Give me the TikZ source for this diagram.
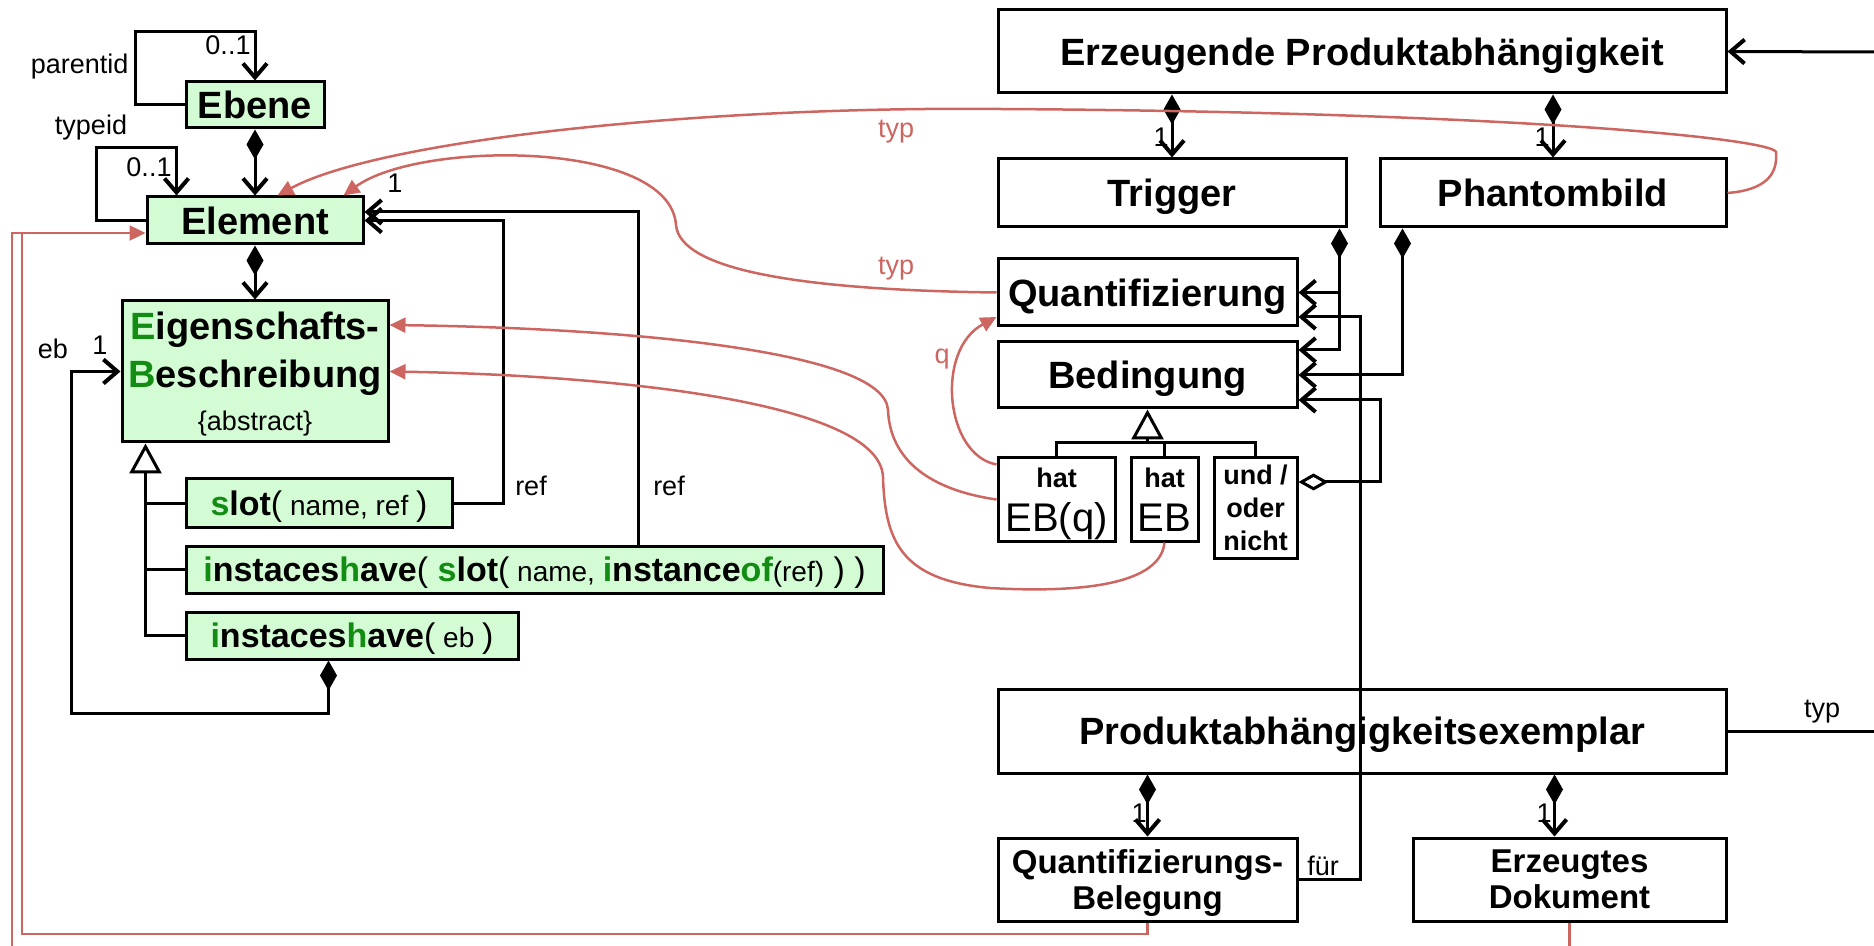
\documentclass[tikz,border=0pt]{standalone}
\usepackage{fontspec}
\setmainfont{Liberation Sans}
\usetikzlibrary{arrows.meta,calc}

\definecolor{clsfill}{RGB}{212,252,212}
\definecolor{kwgreen}{RGB}{18,140,18}
\definecolor{typred}{RGB}{205,102,96}

\newcommand{\kw}[1]{\textcolor{kwgreen}{#1}}
\newcommand{\argtxt}[1]{{\mdseries\fontsize{14}{16}\selectfont #1}}
\newcommand{\rpar}[1]{{\mdseries #1}}

\tikzset{every picture/.style={line width=1.5pt}}
\tikzset{
  cls/.style={draw, inner sep=0pt, align=center, text depth=0pt, font=\fontsize{19}{24}\selectfont\bfseries},
  green cls/.style={cls, fill=clsfill},
  sub cls/.style={green cls, font=\fontsize{17}{20}\selectfont\bfseries},
  small cls/.style={cls, font=\fontsize{16.5}{18}\selectfont\bfseries},
  hat cls/.style={cls, font=\fontsize{20}{22}\selectfont},
  op cls/.style={cls, font=\fontsize{13.5}{16.5}\selectfont\bfseries},
  lbl/.style={inner sep=0pt, font=\fontsize{13.5}{16}\selectfont},
  red lbl/.style={lbl, text=typred},
  assoc/.style={-{Straight Barb[length=7pt,width=12pt,line width=2pt]}},
  comp/.style={{Diamond[length=15pt,width=8.5pt]}-{Straight Barb[length=7pt,width=12pt,line width=2pt]}},
  aggr/.style={{Diamond[open,fill=white,length=15pt,width=8.5pt]}-{Straight Barb[length=7pt,width=12pt,line width=2pt]}},
  gen/.style={-{Triangle[open,fill=white,length=15pt,width=16pt]}},
  typ/.style={typred, line width=1.25pt},
  typ arrow/.style={typ, -{Triangle[length=8pt,width=7.5pt]}},
}

\begin{document}
\begin{tikzpicture}[x=0.5pt,y=0.5pt,yscale=-1]
  \useasboundingbox (0,0) rectangle (1874,946);

  %Shape: Rectangle (meta model, left)
  \node[green cls, minimum width=69pt, minimum height=23pt] (ebene) at (255,105) {Ebene};
  \node[green cls, minimum width=108pt, minimum height=23.5pt] (element) at (255,220.5) {Element};
  \node[green cls, minimum width=133pt, minimum height=70.5pt] (eb) at (255,371.5)
    {\kw{E}igenschafts-\\\kw{B}eschreibung\\[-2.5pt]{\mdseries\fontsize{13.5}{16}\selectfont\{abstract\}}};
  \node[sub cls, minimum width=133pt, minimum height=24pt] (slot) at (319,503)
    {\kw{s}lot\rpar{(}\argtxt{ name, ref }\rpar{)}};
  \node[sub cls, minimum width=348.5pt, minimum height=23.5pt] (ihslot) at (534.5,569.5)
    {\kw{i}nstaces\kw{h}ave\rpar{(} \kw{s}lot\rpar{(}\argtxt{ name, }\kw{i}nstance\kw{of}\argtxt{(ref)}\rpar{ ) )}};
  \node[sub cls, minimum width=166pt, minimum height=23.5pt] (iheb) at (352,635.5)
    {\kw{i}nstaces\kw{h}ave\rpar{(}\argtxt{ eb }\rpar{)}};

  %Shape: Rectangle (product dependencies, right)
  \node[cls, minimum width=364pt, minimum height=41.5pt] (epa) at (1362,51.5) {Erzeugende Produktabhängigkeit};
  \node[cls, minimum width=174pt, minimum height=34pt] (trigger) at (1172,193) {Trigger};
  \node[cls, minimum width=173pt, minimum height=34pt] (phantom) at (1553,193) {Phantombild};
  \node[cls, minimum width=149.5pt, minimum height=33.5pt] (quant) at (1147.5,292.5) {Quantifizierung};
  \node[cls, minimum width=149.5pt, minimum height=33pt] (bed) at (1147.5,375) {Bedingung};
  \node[hat cls, minimum width=58.5pt, minimum height=41.5pt] (hateq) at (1056.5,499.5)
    {{\bfseries\fontsize{13.5}{16}\selectfont hat}\\EB(q)};
  \node[hat cls, minimum width=33.5pt, minimum height=41.5pt] (hateb) at (1164.5,499.5)
    {{\bfseries\fontsize{13.5}{16}\selectfont hat}\\EB};
  \node[op cls, minimum width=41.5pt, minimum height=50pt] (undoder) at (1255.5,508) {und /\\oder\\nicht};
  \node[cls, minimum width=364pt, minimum height=42pt] (pae) at (1362,731) {Produktabhängigkeitsexemplar};
  \node[small cls, minimum width=149.5pt, minimum height=41.5pt] (qb) at (1147.5,879.5) {Quantifizierungs-\\Belegung};
  \node[small cls, minimum width=156.5pt, minimum height=41.5pt] (ed) at (1569.5,879.5) {Erzeugtes\\Dokument};

  %Straight Lines (self associations)
  \draw[assoc] (ebene.west) -- ++(-49,0) -- ++(0,-73) -| (ebene.north);
  \draw[assoc] (element.west) -- ++(-49,0) -- ++(0,-73) -| ($(element.north west)+(31,0)$);

  %Straight Lines (compositions, left)
  \draw[comp] (ebene.south) -- (element.north);
  \draw[comp] (element.south) -- (eb.north);
  \coordinate (ebdia) at ($(iheb.south west)+(144,0)$);
  \draw[comp] (ebdia) -- ++(0,53) -| ($(eb.west)+(-49,0)$) -- (eb.west);

  %Straight Lines (generalisation)
  \coordinate (ebgen) at ($(eb.south west)+(25,0)$);
  \draw[gen] (iheb.west) -| (ebgen);
  \draw (slot.west) -- (slot.west -| ebgen);
  \draw (ihslot.west) -- (ihslot.west -| ebgen);

  %Straight Lines (ref)
  \draw[assoc] (slot.east) -- ++(50,0) |- (element.east);
  \draw[assoc] ($(ihslot.north west)+(454,0)$) |- ($(element.east)+(0,-8.5)$);

  %Straight Lines (right)
  \draw[comp] (trigger.north |- epa.south) -- (trigger.north);
  \draw[comp] (phantom.north |- epa.south) -- (phantom.north);
  \coordinate (trigdia) at ($(trigger.south east)+(-8,0)$);
  \draw[comp] (trigdia) |- ($(bed.east)+(0,-25)$);
  \draw[assoc] (trigdia |- quant.east) -- (quant.east);
  \coordinate (phdia) at ($(phantom.south west)+(24,0)$);
  \draw[comp] (phdia) |- (bed.east);
  \draw[aggr] ($(undoder.east)+(0,-26)$) -- ++(82,0) |- ($(bed.east)+(0,25)$);
  \coordinate (bedbus) at ($(bed.south)+(0,33)$);
  \draw[gen] (bedbus) -- (bed.south);
  \draw (hateq.north) |- (bedbus) -| (undoder.north);
  \draw (hateb.north) -- (hateb.north |- bedbus);
  \draw[comp] (qb.north |- pae.south) -- (qb.north);
  \coordinate (eddia) at ($(ed.north west)+(143,0)$);
  \draw[comp] (eddia |- pae.south) -- (eddia);
  \draw[assoc] (qb.east) -- ++(62,0) |- ($(quant.east)+(0,24.5)$);
  \coordinate (epain) at (1874,52);
  \draw[assoc] (epain) -- (epa.east);
  \coordinate (paeout) at (1874,731);
  \draw (pae.east) -- (paeout);

  %Curve Lines (typ)
  \draw[typ arrow] (phantom.east) .. controls (1765,190) and (1778,175) .. (1776,152)
    .. controls (1770,138) and (1500,112) .. (1000,109)
    .. controls (700,106) and (380,140) .. ($(element.north west)+(132,0)$);
  \draw[typ arrow] (quant.west) .. controls (800,290) and (680,270) .. (676,225)
    .. controls (670,140) and (420,140) .. ($(element.north west)+(198,0)$);
  \draw[typ arrow] (hateq.west) .. controls (930,490) and (890,460) .. (888,410)
    .. controls (885,350) and (620,328) .. ($(eb.east)+(0,-46.5)$);
  \draw[typ arrow] (hateb.south) .. controls (1160,590) and (1060,592) .. (990,588)
    .. controls (900,580) and (885,540) .. (883,477)
    .. controls (880,400) and (600,375) .. (eb.east);
  \draw[typ arrow] ($(hateq.north west)+(0,8)$) .. controls (945,455) and (935,350) .. ($(quant.west)+(0,24.5)$);

  %Straight Lines (typ, outer)
  \coordinate (lbend) at (22,934);
  \coordinate (lout) at (12,946);
  \coordinate (elin) at ($(element.west)+(-125,12.5)$);
  \draw[typ arrow] (qb.south) |- (lbend) |- ($(element.west)+(0,12.5)$);
  \draw[typ] (lout) |- (elin);
  \coordinate (bottomedge) at (0,946);
  \draw[typ] (ed.south) -- (ed.south |- bottomedge);

  % Text Node
  \node[lbl, anchor=east] (lparent) at (130,67) {parentid};
  \node[lbl] (lebmult) at (228,45) {0..1};
  \node[lbl] (ltypeid) at (91,128) {typeid};
  \node[lbl] (lelmult) at (149,167) {0..1};
  \node[lbl] (lelone) at (395,183) {1};
  \node[lbl] (leb) at (53,349) {eb};
  \node[lbl] (lebone) at (100,345) {1};
  \node[lbl] (lrefa) at (531,486) {ref};
  \node[lbl] (lrefb) at (669,486) {ref};
  \node[red lbl] (ltypa) at (896,132) {typ};
  \node[red lbl] (ltypb) at (896,269) {typ};
  \node[red lbl] (lq) at (942,359) {q};
  \node[lbl] (ltrig) at (1161,137) {1};
  \node[lbl] (lphan) at (1542,137) {1};
  \node[lbl] (lqb) at (1139,813) {1};
  \node[lbl] (led) at (1544,813) {1};
  \node[lbl] (lfuer) at (1323,866) {für};
  \node[lbl] (ltypc) at (1822,712) {typ};
\end{tikzpicture}
\end{document}
